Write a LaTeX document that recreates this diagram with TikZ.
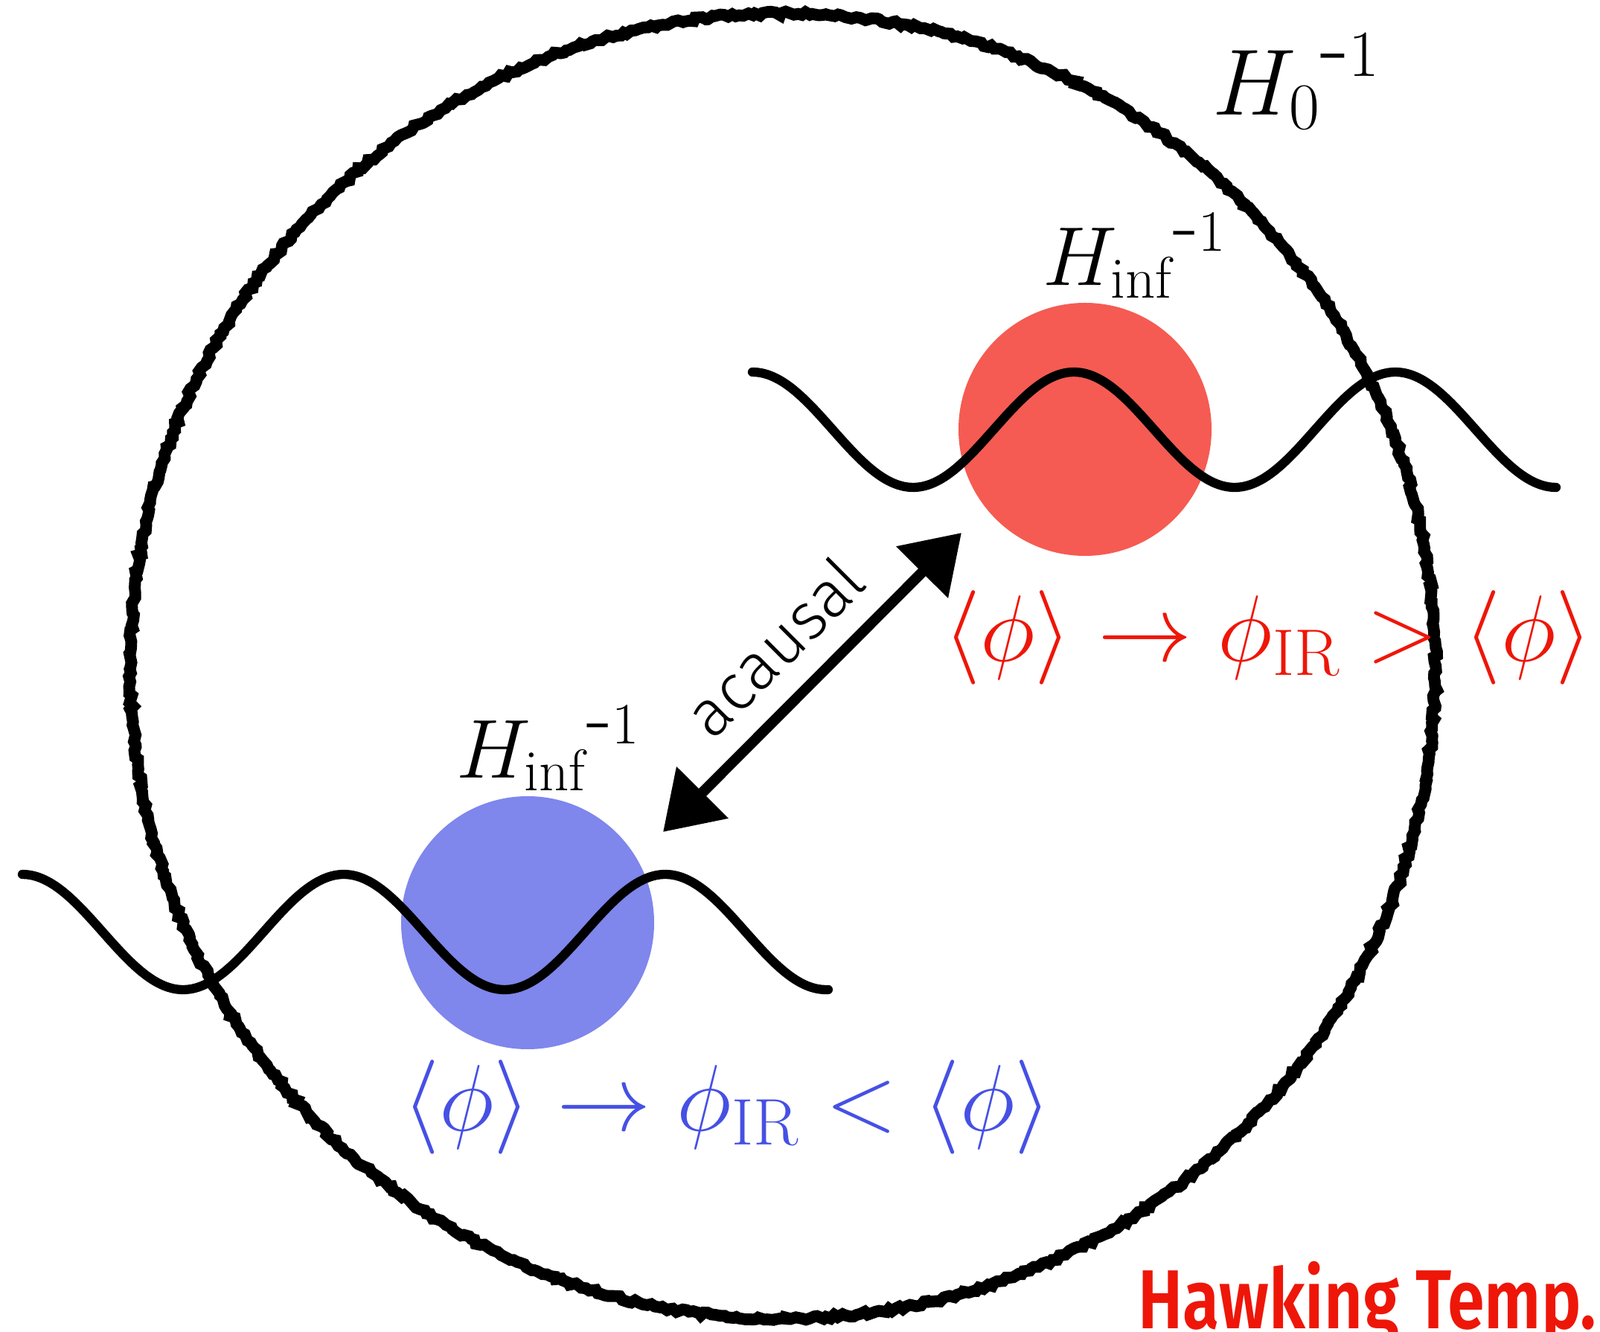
\RequirePackage{fix-cm}
\documentclass[tikz,border=0pt]{standalone}
\usepackage{fontspec}
\newfontfamily\firafont{Fira Sans}
\newfontfamily\firalight{Fira Sans Light}
\newfontfamily\firabold{Fira Sans SemiBold}
\usetikzlibrary{arrows.meta, decorations.pathmorphing, positioning}
\usetikzlibrary{calc}

\definecolor{blobred}{RGB}{245,91,82}
\definecolor{blobblue}{RGB}{127,134,236}
\definecolor{textred}{RGB}{238,22,8}
\definecolor{textblue}{RGB}{70,80,228}

\begin{document}
\begin{tikzpicture}[
  blob/.style={circle, minimum size=3.4cm, inner sep=0pt},
  wave/.style={line width=3.5pt, line cap=round},
  chalk/.style={line width=4.5pt, decorate,
    decoration={random steps, segment length=1.5pt, amplitude=0.7pt}},
  hlabel/.style={anchor=base west, inner sep=0pt, font=\fontsize{32}{36}\selectfont},
  relation/.style={inner sep=0pt, font=\fontsize{36}{40}\selectfont}
]
\useasboundingbox (0,0) rectangle (21.5,17.89);

\def\period{4.32}
\def\amp{0.775}

% the two patches
\node[blob, fill=blobred] (redblob) at (14.58,12.12) {};
\node[blob, fill=blobblue] (blueblob) at (7.09,5.49) {};

% field profiles
\draw[wave] plot[domain=10.11:20.91, samples=150, smooth]
  (\x, {12.115 + \amp*cos(360*(\x-10.11)/\period)});
\draw[wave] plot[domain=0.30:11.13, samples=150, smooth]
  (\x, {5.365 + \amp*cos(360*(\x-0.30)/\period)});

% horizon
\node[circle, minimum size=17.54cm, inner sep=0pt] (horizon) at (10.52,8.94) {};
\draw[chalk] (horizon.center) circle (8.77);

% acausal link
\coordinate (lowtip) at (8.91,6.71);
\coordinate (hightip) at (12.92,10.73);
\draw[line width=4pt, {Triangle[length=7.5mm,width=9.5mm]}-{Triangle[length=7.5mm,width=9.5mm]}]
  (lowtip) -- (hightip);
\node[rotate=45, font=\firalight\fontsize{25}{28}\selectfont] (acausal) at (10.40,9.20) {acausal};

% labels
\node[hlabel, font=\fontsize{36}{40}\selectfont] (hzero) at (16.29,16.34) {${H_0}^{\textrm{-}1}$};
\node[hlabel] (hinfup) at (14.01,14.05) {${H_{\mathrm{inf}}}^{\textrm{-}1}$};
\node[hlabel] (hinflow) at (6.13,7.43) {${H_{\mathrm{inf}}}^{\textrm{-}1}$};

\node[relation, text=textred] (upper) at (17.04,9.32)
  {$\langle\phi\rangle \to \phi_{\mathrm{IR}} > \langle\phi\rangle$};
\node[relation, text=textblue] (lower) at (9.77,3.01)
  {$\langle\phi\rangle \to \phi_{\mathrm{IR}} < \langle\phi\rangle$};

\node[anchor=base east, inner sep=0pt, text=textred, xscale=0.8,
  font=\firabold\fontsize{32}{36}\selectfont] (hawking) at (21.46,0.04) {Hawking Temp.};

\end{tikzpicture}
\end{document}
